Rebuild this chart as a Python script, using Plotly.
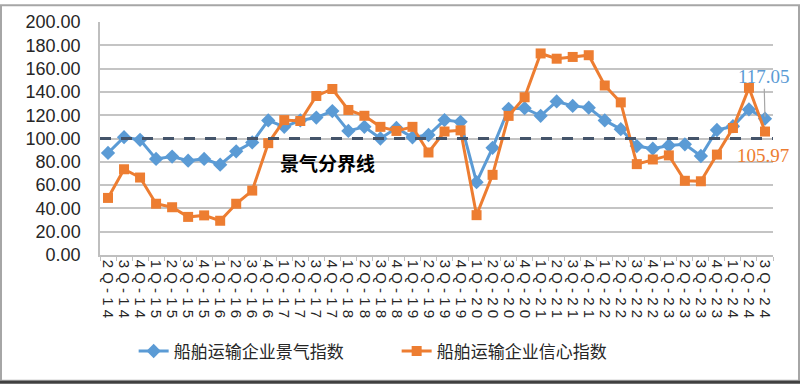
import plotly.graph_objects as go

quarters = ["2Q-14", "3Q-14", "4Q-14",
            "1Q-15", "2Q-15", "3Q-15", "4Q-15",
            "1Q-16", "2Q-16", "3Q-16", "4Q-16",
            "1Q-17", "2Q-17", "3Q-17", "4Q-17",
            "1Q-18", "2Q-18", "3Q-18", "4Q-18",
            "1Q-19", "2Q-19", "3Q-19", "4Q-19",
            "1Q-20", "2Q-20", "3Q-20", "4Q-20",
            "1Q-21", "2Q-21", "3Q-21", "4Q-21",
            "1Q-22", "2Q-22", "3Q-22", "4Q-22",
            "1Q-23", "2Q-23", "3Q-23", "4Q-23",
            "1Q-24", "2Q-24", "3Q-24"]

prosperity_index = [87.6, 101.1, 98.9,
                    82.5, 84.5, 81.0, 82.5,
                    77.5, 89.0, 96.6, 115.5,
                    110.0, 115.5, 118.0, 123.5,
                    106.5, 110.0, 100.0, 109.0,
                    101.0, 103.0, 115.8, 114.3,
                    62.5, 92.0, 125.5, 126.0,
                    119.5, 131.8, 128.0, 126.5,
                    115.5, 108.0, 93.5, 91.3,
                    94.0, 95.0, 85.0, 107.3,
                    110.5, 125.0, 117.05]

confidence_index = [49.0, 73.6, 66.5,
                    44.0, 41.0, 32.7, 34.0,
                    29.4, 44.0, 55.3, 96.0,
                    115.8, 115.0, 136.5, 142.5,
                    124.5, 119.5, 110.0, 106.5,
                    110.0, 88.0, 106.0, 107.0,
                    34.2, 68.8, 119.4, 135.4,
                    173.0, 168.5, 170.0, 171.5,
                    145.5, 131.0, 78.0, 82.0,
                    85.5, 63.7, 63.3, 86.2,
                    109.0, 143.5, 105.97]

threshold = 100
y_ticks = [0, 20, 40, 60, 80, 100, 120, 140, 160, 180, 200]

name_prosperity = "船舶运输企业景气指数"
name_confidence = "船舶运输企业信心指数"
threshold_label = "景气分界线"

BLUE = "#5B9BD5"
ORANGE = "#ED7D31"

fig = go.Figure()
fig.add_trace(go.Scatter(
    x=quarters, y=prosperity_index, name=name_prosperity, mode="lines+markers",
    line=dict(color=BLUE, width=3),
    marker=dict(symbol="diamond", size=11, color=BLUE),
))
fig.add_trace(go.Scatter(
    x=quarters, y=confidence_index, name=name_confidence, mode="lines+markers",
    line=dict(color=ORANGE, width=3),
    marker=dict(symbol="square", size=10, color=ORANGE),
))

# threshold dashed line across the plot area
fig.add_shape(type="line", xref="paper", yref="y", x0=0, x1=1,
              y0=threshold, y1=threshold, layer="above",
              line=dict(color="#44546A", width=3, dash="11px,10px"))

fig.add_annotation(xref="paper", yref="y", x=0.338, y=79, text=f"<b>{threshold_label}</b>",
                   showarrow=False, font=dict(family="Noto Sans CJK SC", size=19, color="#000000"))

fig.add_annotation(xref="x", yref="y", x=quarters[-1], y=prosperity_index[-1],
                   text=f"{prosperity_index[-1]:.2f}", showarrow=True, arrowhead=0,
                   arrowcolor="#A6A6A6", arrowwidth=1.2, ax=-1, ay=-42, standoff=2,
                   font=dict(family="Liberation Serif", size=19, color=BLUE))
fig.add_annotation(xref="x", yref="y", x=quarters[-1], y=confidence_index[-1],
                   text=f"{confidence_index[-1]:.2f}", showarrow=False,
                   xshift=-2, yshift=-24,
                   font=dict(family="Liberation Serif", size=19, color=ORANGE))

# outer frame
fig.add_shape(type="rect", xref="paper", yref="paper",
              x0=-99/673, x1=1 + 26/673, y0=-128/237, y1=1 + 17/237,
              line=dict(color="#A6A6A6", width=2), layer="above")
fig.add_shape(type="line", xref="paper", yref="paper",
              x0=-100/673, x1=1 + 27/673, y0=-129.5/237, y1=-129.5/237,
              line=dict(color="#404040", width=3), layer="above")

spaced = [" ".join(q) for q in quarters]

fig.update_layout(
    width=800, height=386,
    margin=dict(l=100, r=27, t=18, b=131),
    paper_bgcolor="white", plot_bgcolor="white",
    font=dict(family="Liberation Sans", color="#262626"),
    showlegend=True,
    legend=dict(orientation="h", x=0.05, y=-0.414, xanchor="left", yanchor="middle",
                font=dict(family="Noto Sans CJK SC", size=17, color="#262626"),
                entrywidth=218, bgcolor="rgba(0,0,0,0)"),
)
fig.update_xaxes(
    type="category", tickmode="array", tickvals=quarters, ticktext=spaced,
    tickangle=90, tickfont=dict(size=15, color="#262626"),
    showline=True, linecolor="#BFBFBF", linewidth=1.5,
    ticks="outside", ticklen=4, tickcolor="#BFBFBF", tickson="boundaries",
    showgrid=False, range=[-0.5, len(quarters) - 0.5],
)
fig.update_yaxes(
    range=[0, 200], tickmode="array", tickvals=y_ticks,
    ticktext=[f"{v:.2f}" for v in y_ticks],
    tickfont=dict(size=18, color="#262626"),
    showgrid=True, gridcolor="#C4C4C4", gridwidth=1.5,
    showline=True, linecolor="#BFBFBF", linewidth=1.5,
    zeroline=False, ticks="", ticklabelstandoff=14,
)

fig.write_html("out.html",
               config={"displayModeBar": False},
               post_script="document.body.style.margin='0';document.body.style.padding='0';"
                           "document.documentElement.style.overflow='hidden';")
